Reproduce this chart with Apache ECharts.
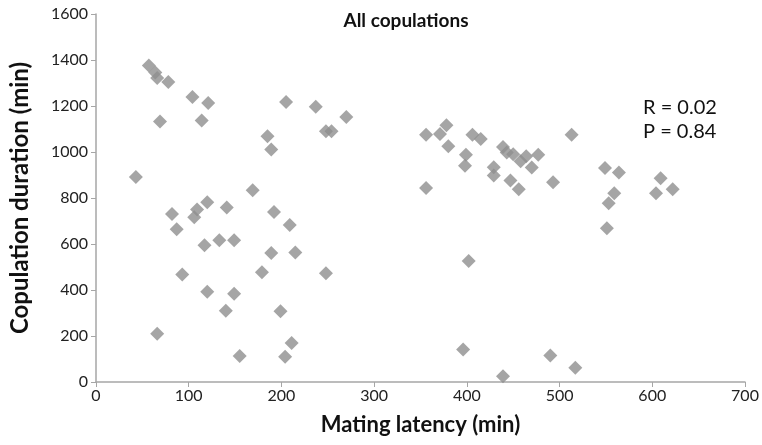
<!DOCTYPE html>
<html>
<head>
<meta charset="utf-8">
<script src="https://cdn.jsdelivr.net/npm/echarts@6/dist/echarts.min.js"></script>
<style>
  html, body { margin: 0; padding: 0; background: #fff; }
  #chart { width: 762px; height: 445px; }
</style>
</head>
<body>
<div id="chart"></div>
<script>
// mating latency (min), copulation duration (min)
const latency = [
  57, 64, 66, 78, 104, 121, 69, 114, 205, 185, 189, 43, 169, 82, 120, 109, 106, 141, 192, 209,
  87, 117, 133, 149, 189, 215, 93, 179, 248, 120, 149, 140, 199, 66, 211, 155, 204,
  237, 248, 254, 270,
  356, 371, 378, 380, 406, 415, 399, 398, 356, 439, 443, 450, 464, 458, 470, 477, 429, 429,
  447, 456, 493, 513, 549, 564, 559, 553, 551, 609, 604, 622, 402, 396, 439, 490, 517
];
const duration = [
  1376, 1346, 1322, 1304, 1239, 1213, 1133, 1137, 1217, 1068, 1011, 891, 834, 730, 781, 750, 716, 759, 739, 683,
  664, 595, 616, 616, 561, 563, 467, 477, 473, 392, 384, 310, 308, 210, 170, 113, 110,
  1197, 1090, 1090, 1152,
  1075, 1078, 1116, 1025, 1075, 1056, 988, 940, 843, 1022, 998, 990, 981, 960, 933, 988, 934, 898,
  876, 838, 869, 1075, 930, 911, 821, 777, 669, 886, 821, 838, 526, 141, 25, 115, 62
];
const stats = ['R = 0.02', 'P = 0.84'];

const points = latency.map((x, i) => [x, duration[i]]);
const font = 'Lato, "Open Sans", sans-serif';
const axisGray = '#a6a6a6';

const chart = echarts.init(document.getElementById('chart'));
chart.setOption({
  animation: false,
  grid: { left: 94, right: 17, top: 14, bottom: 63 },
  xAxis: {
    type: 'value', min: 0, max: 700, interval: 100,
    name: 'Mating latency (min)', nameLocation: 'middle', nameGap: 32,
    nameTextStyle: { fontFamily: font, fontSize: 22, fontWeight: 'bold', color: '#111' },
    axisLine: { show: true, lineStyle: { color: axisGray, width: 1.5 } },
    axisTick: { show: true, length: 5, lineStyle: { color: axisGray } },
    axisLabel: { fontFamily: font, fontSize: 16, color: '#222', margin: 6, formatter: v => String(v) },
    splitLine: { show: false }
  },
  yAxis: {
    type: 'value', min: 0, max: 1600, interval: 200,
    name: 'Copulation duration (min)', nameLocation: 'middle', nameGap: 64,
    nameTextStyle: { fontFamily: font, fontSize: 24, fontWeight: 'bold', color: '#111' },
    axisLine: { show: true, lineStyle: { color: axisGray, width: 1.5 } },
    axisTick: { show: true, length: 5, lineStyle: { color: axisGray } },
    axisLabel: { fontFamily: font, fontSize: 16, color: '#222', margin: 8, formatter: v => String(v) },
    splitLine: { show: false }
  },
  graphic: [
    { type: 'text', x: 406, y: 11,
      style: { text: 'All copulations', font: 'bold 19px ' + font, fill: '#111', align: 'center' } },
    { type: 'text', x: 643, y: 96,
      style: { text: stats.join('\n'), font: '20px ' + font, fill: '#111', lineHeight: 24 } }
  ],
  series: [{
    type: 'scatter',
    symbol: 'diamond',
    symbolSize: 14,
    itemStyle: { color: '#8f8f8f' },
    data: points
  }]
});
</script>
</body>
</html>
